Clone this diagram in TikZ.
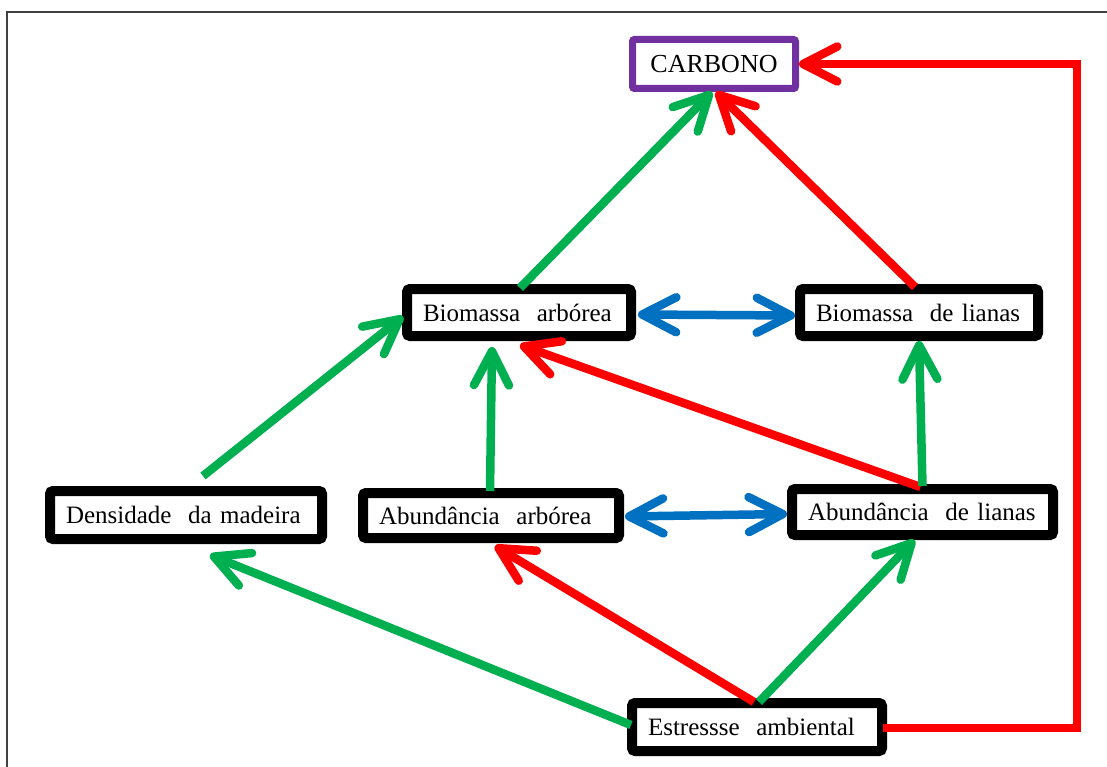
\documentclass[tikz,border=0pt]{standalone}
\usepackage{fontspec}
\setmainfont{Liberation Serif}
\usetikzlibrary{arrows.meta,calc}
\definecolor{cgreen}{HTML}{00B050}
\definecolor{cred}{HTML}{FF0000}
\definecolor{cblue}{HTML}{0070C0}
\definecolor{cpurple}{HTML}{7030A0}
\begin{document}
\begin{tikzpicture}[x=1pt,y=-1pt,
  box/.style={draw=black, line width=10pt, rounded corners=3pt, fill=white,
    inner xsep=16pt, inner ysep=0pt, align=left,
    font=\fontsize{25}{30}\selectfont, minimum height=47pt},
  pbox/.style={draw=cpurple, line width=7pt, rounded corners=2pt, fill=white,
    inner sep=0pt, minimum width=163pt, minimum height=49pt,
    font=\fontsize{26}{30}\selectfont},
  arr/.style={line width=8.5pt, -{Straight Barb[length=34pt,width=35pt,round]}},
  darr/.style={line width=8.5pt, {Straight Barb[length=34pt,width=35pt,round]}-{Straight Barb[length=34pt,width=35pt,round]}}
]
\useasboundingbox (0,0) rectangle (1107,767);
\fill[white] (0,0) rectangle (1107,767);
% frame
\draw[line width=2pt, black!75] (7,800) -- (7,12) -- (1120,12);

% nodes
\node[pbox] (carb) at (714,64) {CARBONO};
\node[box, text width=192pt] (ba) at (519,312.5) {Biomassa\ \ arbórea};
\node[box, text width=206pt] (bl) at (919,312.5) {Biomassa\ \ de lianas};
\node[box, text width=240pt, minimum height=48pt] (dm) at (186,515) {Densidade\ \ da madeira};
\node[box, text width=224pt, minimum height=45pt] (aa) at (491,515.5) {Abundância\ \ arbórea};
\node[box, text width=229pt, minimum height=46pt] (al) at (922.5,512) {Abundância\ \ de lianas};
\node[box, text width=218pt, minimum height=48pt] (ea) at (757,727) {Estressse\ \ ambiental};

\coordinate (rc) at (1077,63);

% connectors
\draw[arr, cgreen] ($(ba.north)+(1,4)$) -- ($(carb.south)+(-2,0)$);
\draw[arr, cred] ($(bl.north)+(-4,3)$) -- ($(carb.south)+(2,0)$);
\draw[arr, cred, line join=miter] ($(ea.east)+(-4,1)$) -| (rc |- carb.east) -- (carb.east);
\draw[arr, cgreen] ($(dm.north)+(17,-10)$) -- ($(ba.west)+(1,4)$);
\draw[arr, cgreen] ($(aa.north)+(-1,3)$) -- ($(ba.south)+(-27,6)$);
\draw[arr, cred] ($(al.north)+(-2,3)$) -- ($(ba.south)+(1,4)$);
\draw[arr, cgreen] ($(al.north)+(0,2)$) -- ($(bl.south)+(0,0)$);
\draw[arr, cgreen] ($(ea.north)+(2,4)$) -- ($(al.south)+(-8,0)$);
\draw[arr, cred] ($(ea.north)+(-3,4)$) -- ($(aa.south)+(4,3)$);
\draw[arr, cgreen] ($(ea.west)+(4,-2)$) -- ($(dm.south)+(24,11)$);
\draw[darr, cblue] ($(ba.east)+(2,2)$) -- ($(bl.west)+(0,3)$);
\draw[darr, cblue] ($(aa.east)+(1,1)$) -- ($(al.west)+(0,2)$);
\end{tikzpicture}
\end{document}
